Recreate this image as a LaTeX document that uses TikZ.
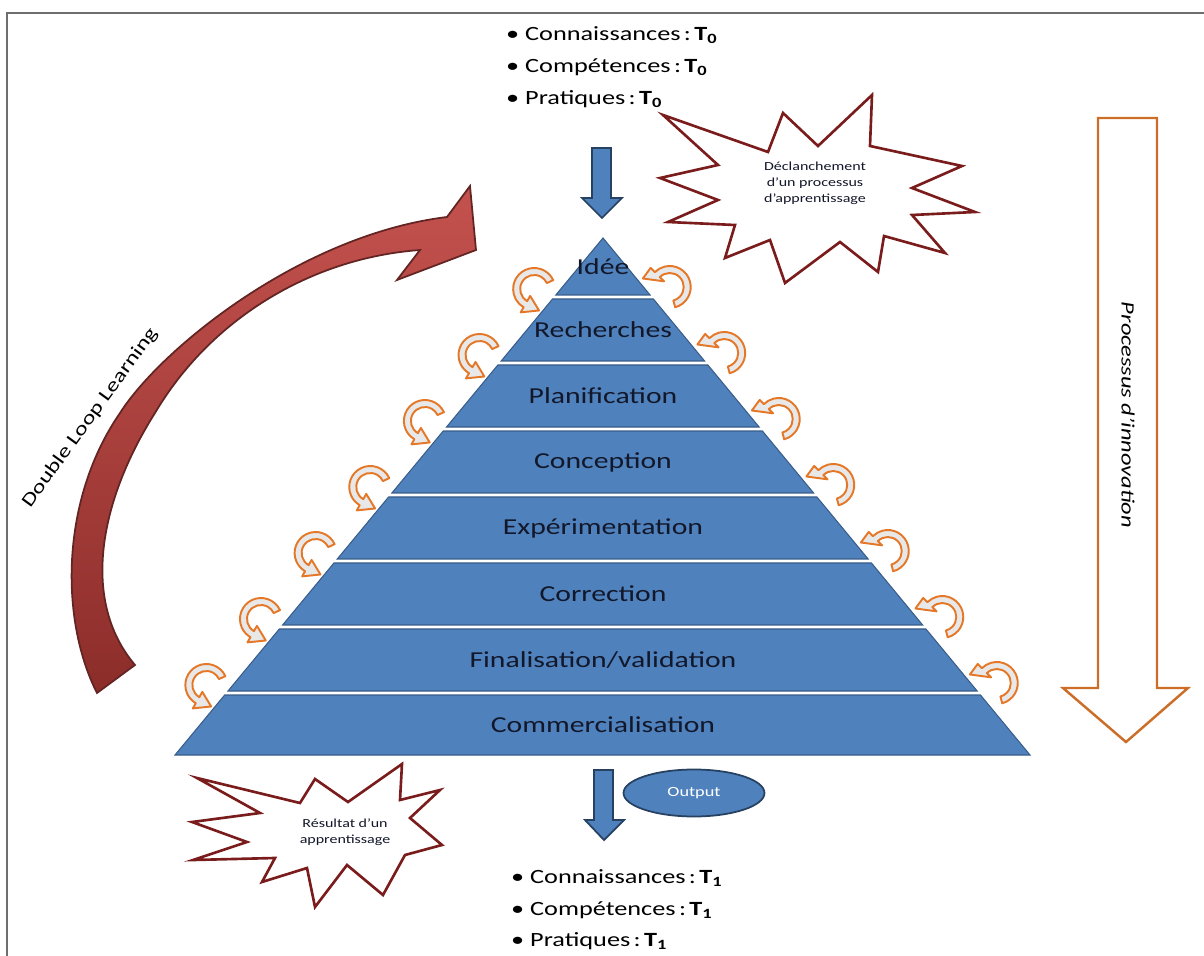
\documentclass[tikz,border=0pt]{standalone}
\usepackage{fontspec}
\setmainfont{Carlito}[FakeStretch=1.3]
\usetikzlibrary{calc}
\usetikzlibrary{shapes.geometric}

\definecolor{pyrblue}{RGB}{79,129,189}
\definecolor{pyredge}{RGB}{56,93,138}
\definecolor{pyrtext}{RGB}{18,24,42}
\definecolor{burstred}{RGB}{122,28,28}
\definecolor{hookorange}{RGB}{228,120,40}
\definecolor{hookfill}{RGB}{232,232,232}
\definecolor{innoorange}{RGB}{204,110,40}
\definecolor{dlred}{RGB}{196,82,78}
\definecolor{dldark}{RGB}{140,45,42}
\definecolor{dledge}{RGB}{99,37,35}
\definecolor{framegray}{RGB}{110,110,110}

\tikzset{
  band/.style={fill=pyrblue, draw=pyredge, line width=0.6pt},
  bandlabel/.style={text=pyrtext, font=\fontsize{13}{15}\selectfont},
  hook/.style={draw=hookorange, fill=hookfill, line width=1.1pt, line join=round},
  burst/.style={draw=burstred, fill=white, line width=1.5pt, line join=miter},
  bursttext/.style={align=center, text=pyrtext, font=\fontsize{7}{9}\selectfont},
  listitem/.style={anchor=west, font=\fontsize{11.5}{13}\selectfont},
  bluearrow/.style={fill=pyrblue, draw=pyredge!70!black, line width=1pt},
  dlarrow/.style={top color=dlred, bottom color=dldark, draw=dledge, line width=1pt},
  outputnode/.style={ellipse, fill=pyrblue, draw=pyredge!70!black, line width=1pt,
    minimum width=2.82cm, minimum height=0.94cm, text=white,
    font=\fontsize{8}{9}\selectfont},
}

% curved orange arrow: start angle, end angle, head direction, centre
\newcommand{\hookarrow}[4]{%
  \begin{scope}[shift={#4}, yscale=-1]
    \draw[hook] (#1:21) arc[start angle=#1, end angle=#2, radius=21] -- (#2:27)
      -- ($(#2:17.5)+(#3:15)$) -- (#2:8) -- (#2:14)
      arc[start angle=#2, end angle=#1, radius=14] -- cycle;
  \end{scope}}

\begin{document}
\begin{tikzpicture}[x=0.02cm, y=-0.02cm]
  \useasboundingbox (0,0) rectangle (1204,956);
  \draw[framegray, line width=1.2pt] (7,956) -- (7,13) -- (1204,13);

  % double loop arrow
  \draw[dlarrow] (97,693) .. controls (60,620) and (60,500) .. (120,413)
    .. controls (160,350) and (300,235) .. (447,217) -- (470,186) -- (476,250)
    -- (397,280) -- (420,250) .. controls (310,258) and (210,320) .. (155,413)
    .. controls (100,500) and (80,600) .. (135,665) -- cycle;
  \node[rotate=54, font=\fontsize{10.7}{12}\selectfont] (dll) at (90,418) {Double Loop Learning};

  % starbursts
  \draw[burst] (663,115) -- (768,152) -- (783,113) -- (818,146) -- (872,95)
    -- (870,146) -- (962,166) -- (912,188) -- (975,212) -- (912,215)
    -- (945,253) -- (884,236) -- (878,272) -- (840,242) -- (785,283)
    -- (770,240) -- (725,258) -- (735,225) -- (668,222) -- (718,200)
    -- (660,178) -- (718,165) -- cycle;
  \node[bursttext] (start) at (815,183) {Déclanchement\\d’un processus\\d’apprentissage};

  \draw[burst] (197,778) -- (300,803) -- (315,779) -- (348,802) -- (402,764)
    -- (400,800) -- (440,790) -- (410,818) -- (442,845) -- (405,855)
    -- (383,895) -- (347,865) -- (315,907) -- (307,868) -- (262,882)
    -- (275,858) -- (193,860) -- (247,842) -- (192,822) -- (260,813) -- cycle;
  \node[bursttext] (result) at (345,832) {Résultat d’un\\apprentissage};

  % pyramid
  \coordinate (apex) at (603,238);
  \coordinate (bl) at (175,755);
  \coordinate (br) at (1030,755);
  \foreach \ytop/\ybot/\name/\txt in {238/295/idea/Idée, 299/361/research/Recherches,
      365/427/plan/Planification, 431/493/design/Conception,
      497/559/test/Expérimentation, 563/625/fix/Correction,
      629/691/final/{Finalisation/validation}, 695/755/market/Commercialisation}{
    \pgfmathsetmacro\ta{(\ytop-238)/517}
    \pgfmathsetmacro\tb{(\ybot-238)/517}
    \draw[band] ($(apex)!\ta!(bl)$) -- ($(apex)!\tb!(bl)$) -- ($(apex)!\tb!(br)$)
      -- ($(apex)!\ta!(br)$) -- cycle;
    \node[bandlabel] (\name) at (603,{(\ytop+\ybot)/2}) {\txt};
  }

  % feedback hooks
  \foreach \yb [count=\i] in {297,363,429,495,561,627,693}{
    \pgfmathsetmacro\t{(\yb-238)/517}
    \coordinate (hl\i) at ($(apex)!\t!(bl)+(-20,-8)$);
    \coordinate (hr\i) at ($(apex)!\t!(br)+(18,-10)$);
    \hookarrow{25}{240}{-25}{(hl\i)}
    \hookarrow{-75}{135}{195}{(hr\i)}
  }

  % input / output arrows
  \draw[bluearrow] (592,148) -- (611,148) -- (611,198) -- (622,198) -- (602,218)
    -- (582,198) -- (592,198) -- cycle;
  \draw[bluearrow] (594,770) -- (613,770) -- (613,820) -- (624,820) -- (604,840)
    -- (585,820) -- (594,820) -- cycle;
  \node[outputnode] (out) at (694,793) {Output};

  % state lists
  \node[listitem] (know0) at (500,35) {\textbullet\ Connaissances\,:\,\textbf{T\textsubscript{0}}};
  \node[listitem] (skill0) at (500,67) {\textbullet\ Compétences\,:\,\textbf{T\textsubscript{0}}};
  \node[listitem] (prac0) at (500,99) {\textbullet\ Pratiques\,:\,\textbf{T\textsubscript{0}}};
  \node[listitem] (know1) at (505,878) {\textbullet\ Connaissances\,:\,\textbf{T\textsubscript{1}}};
  \node[listitem] (skill1) at (505,910) {\textbullet\ Compétences\,:\,\textbf{T\textsubscript{1}}};
  \node[listitem] (prac1) at (505,941) {\textbullet\ Pratiques\,:\,\textbf{T\textsubscript{1}}};

  % innovation arrow
  \draw[draw=innoorange, fill=white, line width=1.4pt] (1098,118) -- (1157,118)
    -- (1157,688) -- (1188,688) -- (1126,742) -- (1063,688) -- (1098,688) -- cycle;
  \node[rotate=-90, font=\itshape\fontsize{10.7}{12}\selectfont] (inno) at (1128,415) {Processus d’innovation};
\end{tikzpicture}
\end{document}
